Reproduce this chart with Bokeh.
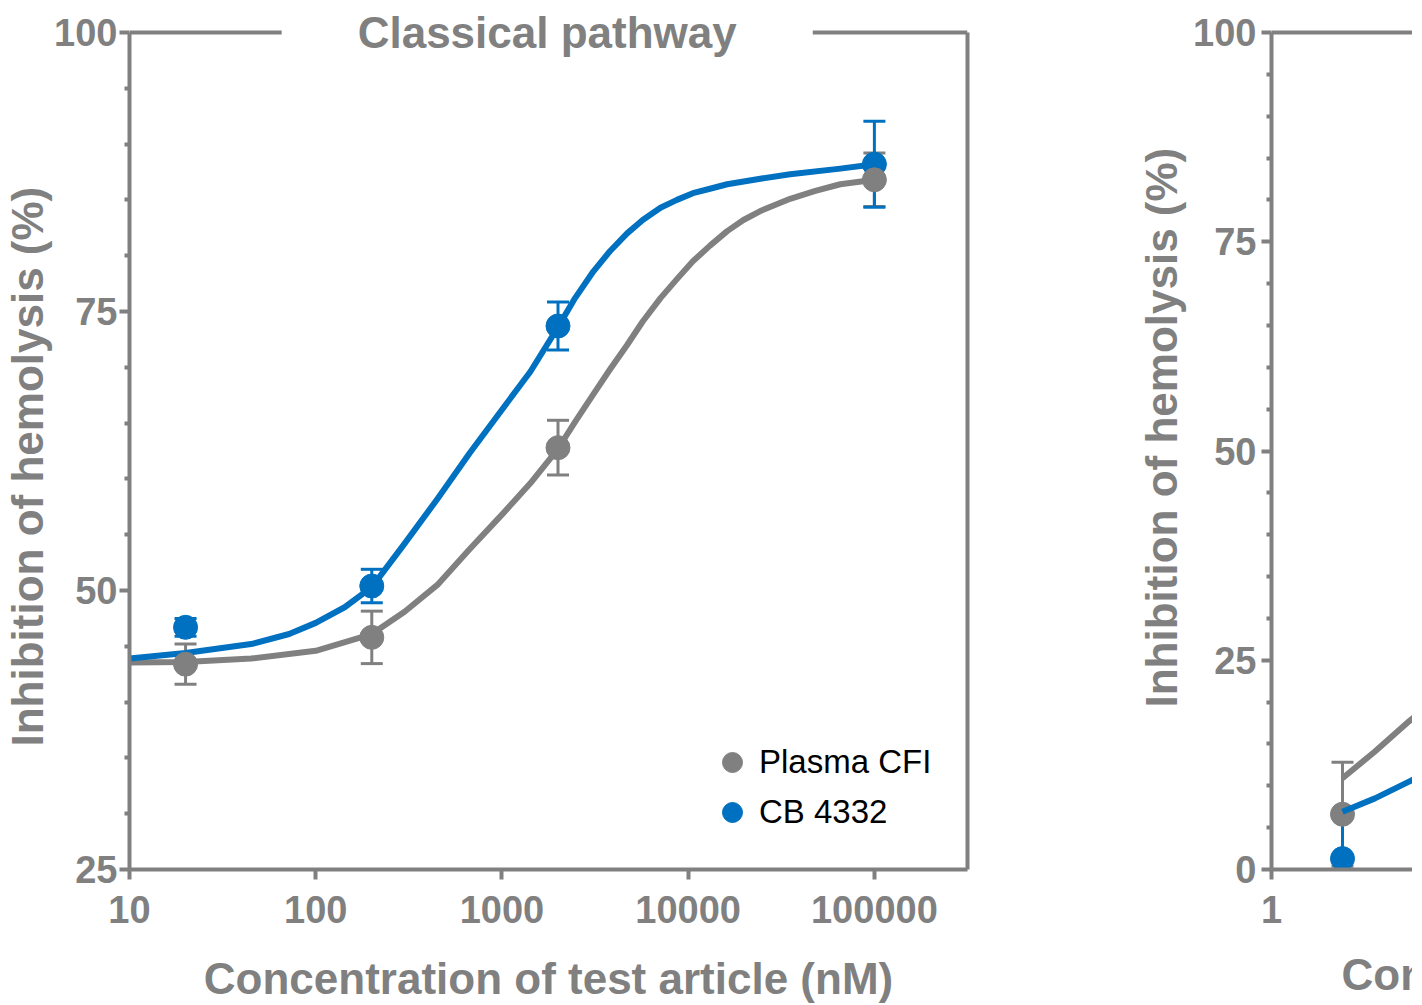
from bokeh.plotting import figure
from bokeh.models import (ColumnDataSource, FixedTicker, Whisker, TeeHead, Label,
                          Legend, LegendItem, Span, NumeralTickFormatter, LinearAxis,
                          Title)
from bokeh.layouts import row
from bokeh.embed import file_html
from bokeh.resources import INLINE

GRAY = "#808080"
BLUE = "#0070C0"
FONT = "Liberation Sans"

# ---------------- data: left panel (Classical pathway) ----------------
conc_left = [20, 200, 2000, 100000]
cfi_mean_left = [43.4, 45.8, 62.8, 86.8]
cfi_err_left = [1.8, 2.35, 2.45, 2.4]
cb_mean_left = [46.7, 50.4, 73.7, 88.2]
cb_err_left = [0.8, 1.5, 2.15, 3.85]

# fitted curves
cfi_fit_x = [10, 20, 45, 100, 200, 300, 450, 670, 1000, 1420, 2000, 2470, 3100,
             3800, 4700, 5700, 7100, 8700, 10600, 13100, 16200, 19800, 24400,
             35300, 48200, 65600, 100000]
cfi_fit_y = [43.55, 43.6, 43.9, 44.6, 46.1, 48.1, 50.5, 53.7, 56.8, 59.6, 62.7,
             65.1, 67.6, 69.8, 72.0, 74.1, 76.2, 77.9, 79.5, 80.9, 82.2, 83.2,
             84.0, 85.1, 85.8, 86.4, 86.8]
cb_fit_x = [10, 20, 45, 72, 100, 143, 200, 300, 450, 670, 1000, 1420, 2000, 2470,
            3100, 3800, 4700, 5700, 7100, 8700, 10600, 13100, 16200, 24400, 35300,
            65600, 100000]
cb_fit_y = [43.9, 44.4, 45.2, 46.1, 47.1, 48.5, 50.3, 54.2, 58.2, 62.3, 66.2,
            69.6, 73.6, 76.2, 78.6, 80.4, 82.0, 83.2, 84.3, 85.0, 85.6, 86.0,
            86.4, 86.9, 87.3, 87.8, 88.2]

x_ticks_left = [10, 100, 1000, 10000, 100000]
y_ticks_left = [25, 50, 75, 100]
y_minor_left = [30, 35, 40, 45, 55, 60, 65, 70, 80, 85, 90, 95]

# ---------------- data: right panel (partly visible) ----------------
conc_right = [2.5]
cfi_mean_right = [6.6]
cfi_err_right = [6.2]
cb_mean_right = [1.3]
cb_err_right = [5.7]

fit_x_right = [2.5, 3.8, 5.9, 7.0]
cfi_fit_right = [10.9, 14.1, 17.7, 19.0]
cb_fit_right = [6.9, 8.5, 10.5, 11.3]

x_ticks_right = [1, 10, 100, 1000, 10000]
y_ticks_right = [0, 25, 50, 75, 100]
y_minor_right = [5, 10, 15, 20, 30, 35, 40, 45, 55, 60, 65, 70, 80, 85, 90, 95]

X_LABEL = "Concentration of test article (nM)"
Y_LABEL = "Inhibition of hemolysis (%)"
TITLE = "Classical pathway"


def style_axis(ax):
    ax.axis_line_color = GRAY
    ax.axis_line_width = 4
    ax.major_tick_line_color = GRAY
    ax.major_tick_line_width = 4
    ax.major_tick_out = 10
    ax.major_tick_in = 0
    ax.minor_tick_line_color = GRAY
    ax.minor_tick_line_width = 4
    ax.minor_tick_out = 5
    ax.minor_tick_in = 0
    ax.major_label_text_font = FONT
    ax.major_label_text_font_style = "bold"
    ax.major_label_text_font_size = "38px"
    ax.major_label_text_color = GRAY
    ax.axis_label_text_font = FONT
    ax.axis_label_text_font_style = "bold"
    ax.axis_label_text_font_size = "44px"
    ax.axis_label_text_color = GRAY


def side_title(text, align, offset, standoff):
    return Title(text=text, align=align, offset=offset, standoff=standoff,
                 text_font=FONT, text_font_size="44px", text_font_style="bold",
                 text_color=GRAY)


def style_fig(p, xt, yt, ym, ybounds):
    p.xgrid.visible = False
    p.ygrid.visible = False
    p.background_fill_color = "white"
    p.border_fill_color = "white"
    p.outline_line_color = None
    style_axis(p.xaxis[0])
    style_axis(p.yaxis[0])
    p.xaxis[0].ticker = FixedTicker(ticks=xt, minor_ticks=[])
    p.xaxis[0].formatter = NumeralTickFormatter(format="0")
    p.yaxis[0].ticker = FixedTicker(ticks=yt, minor_ticks=ym)
    p.yaxis[0].bounds = ybounds
    p.xaxis[0].major_label_standoff = 16
    p.yaxis[0].major_label_standoff = 2
    p.xaxis[0].axis_label_standoff = 28
    # top frame line at the 100 % level
    p.add_layout(Span(location=ybounds[1], dimension="width", line_color=GRAY,
                      line_width=4))


def add_series(p, xs, mean, err, fx, fy, color):
    lower = [m - e for m, e in zip(mean, err)]
    upper = [m + e for m, e in zip(mean, err)]
    src = ColumnDataSource(dict(x=xs, y=mean, lower=lower, upper=upper))
    w = Whisker(source=src, base="x", lower="lower", upper="upper",
                line_color=color, line_width=3,
                upper_head=TeeHead(size=22, line_color=color, line_width=3),
                lower_head=TeeHead(size=22, line_color=color, line_width=3))
    p.add_layout(w)
    p.line(fx, fy, line_color=color, line_width=6, line_join="round")
    return src


# ---------------- left figure ----------------
p = figure(x_axis_type="log", x_range=(10, 316228), y_range=(25, 101.97),
           frame_width=838, frame_height=859,
           min_border_left=122, min_border_right=163, min_border_top=10,
           min_border_bottom=128, output_backend="svg", toolbar_location=None)
style_fig(p, x_ticks_left, y_ticks_left, y_minor_left, (25, 100))
p.xaxis[0].axis_label = X_LABEL
p.add_layout(side_title(Y_LABEL, "left", 123, 0), "left")

# right frame edge
right_edge = LinearAxis(ticker=FixedTicker(ticks=[]), bounds=(25, 100))
style_axis(right_edge)
right_edge.major_label_text_font_size = "0px"
p.add_layout(right_edge, "right")

s_cfi = add_series(p, conc_left, cfi_mean_left, cfi_err_left, cfi_fit_x, cfi_fit_y, GRAY)
s_cb = add_series(p, conc_left, cb_mean_left, cb_err_left, cb_fit_x, cb_fit_y, BLUE)
r_cb = p.scatter("x", "y", source=s_cb, size=24, marker="circle", fill_color=BLUE, line_color=BLUE)
r_cfi = p.scatter("x", "y", source=s_cfi, size=24, marker="circle", fill_color=GRAY, line_color=GRAY)

legend = Legend(items=[LegendItem(label="Plasma CFI", renderers=[r_cfi]),
                       LegendItem(label="CB 4332", renderers=[r_cb])],
                location=(578, 32), margin=0, padding=0,
                glyph_width=50, glyph_height=50, label_height=50, spacing=0,
                label_standoff=2, label_text_font=FONT, label_text_font_size="33px",
                label_text_color="black", border_line_color=None,
                background_fill_alpha=0)
p.add_layout(legend)

title = Label(x=1750, y=100, text=TITLE, text_align="center",
              text_baseline="middle", text_font=FONT, text_font_size="44px",
              text_font_style="bold", text_color=GRAY,
              background_fill_color="white", padding=76)
p.add_layout(title)

# ---------------- right figure (partly visible) ----------------
q = figure(x_axis_type="log", x_range=(1, 6.17), y_range=(0, 102.63),
           frame_width=141, frame_height=859,
           min_border_left=134, min_border_right=0, min_border_top=10,
           min_border_bottom=128, output_backend="svg", toolbar_location=None)
style_fig(q, x_ticks_right, y_ticks_right, y_minor_right, (0, 100))
q.yaxis[0].major_label_standoff = 5
q.add_layout(side_title(Y_LABEL, "left", 162, 9), "left")
q.add_layout(side_title(X_LABEL, "left", 70, 44), "below")

t_cfi = add_series(q, conc_right, cfi_mean_right, cfi_err_right, fit_x_right, cfi_fit_right, GRAY)
q.scatter("x", "y", source=t_cfi, size=24, marker="circle", fill_color=GRAY, line_color=GRAY)
t_cb = add_series(q, conc_right, cb_mean_right, cb_err_right, fit_x_right, cb_fit_right, BLUE)
q.scatter("x", "y", source=t_cb, size=24, marker="circle", fill_color=BLUE, line_color=BLUE)

layout = row(p, q, spacing=0)
open("out.html", "w").write(file_html(layout, INLINE))
